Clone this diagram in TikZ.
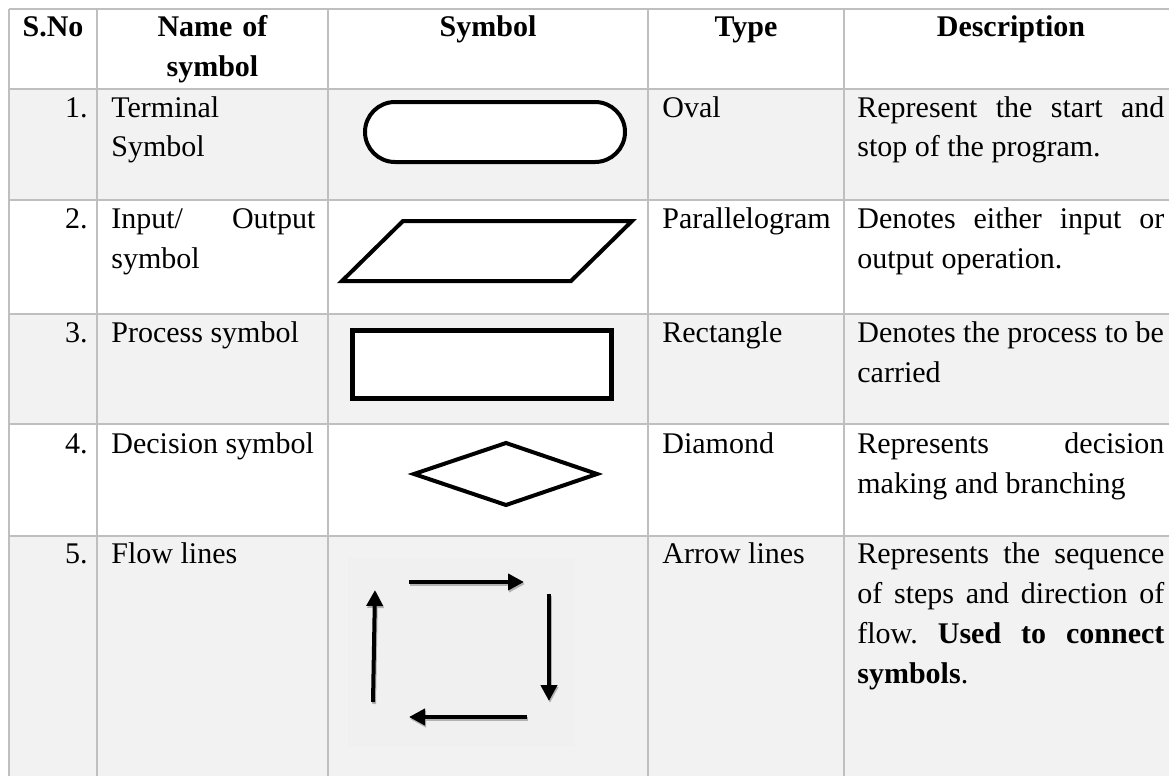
\documentclass[tikz,border=0pt]{standalone}
\usepackage{fontspec}
\setmainfont{Liberation Serif}
\usepackage{tikz}
\usetikzlibrary{arrows.meta}

\definecolor{gridgray}{HTML}{BFBFBF}
\definecolor{rowgray}{HTML}{F2F2F2}
\definecolor{imggray}{HTML}{F0F0F0}
\newcommand{\cellfont}{\fontsize{15pt}{20pt}\selectfont\frenchspacing}

\tikzset{
  txt/.style={anchor=base west, inner sep=0pt},
  num/.style={anchor=base east, inner sep=0pt},
  head/.style={anchor=base, inner sep=0pt, font=\cellfont\bfseries},
  namecol/.style={txt, text width=102pt, align=justify},
  desccol/.style={txt, text width=153.5pt, align=justify},
  rule/.style={draw=gridgray, line width=1pt},
  symb/.style={draw=black, line width=2pt, fill=white},
  flow/.style={line width=2pt, -{Triangle[length=8pt,width=8pt]}},
  flowshade/.style={flow, black!30},
}

\begin{document}
\begin{tikzpicture}[x=0.5pt, y=-0.5pt, every node/.style={font=\cellfont}]
    \clip (0,0) rectangle (1169,776);

    % Row shading
    \fill[rowgray] (9,89) rectangle (1178,200);
    \fill[rowgray] (9,314) rectangle (1178,424);
    \fill[rowgray] (9,536) rectangle (1178,790);

    % Grid
    \draw[rule] (9,9) -- (1178,9);
    \draw[rule] (9,89) -- (1178,89);
    \draw[rule] (9,200) -- (1178,200);
    \draw[rule] (9,314) -- (1178,314);
    \draw[rule] (9,424) -- (1178,424);
    \draw[rule] (9,536) -- (1178,536);
    \draw[rule] (9,9) -- (9,790);
    \draw[rule] (97,9) -- (97,790);
    \draw[rule] (328,9) -- (328,790);
    \draw[rule] (648,9) -- (648,790);
    \draw[rule] (844,9) -- (844,790);
    \draw[rule] (1178,9) -- (1178,790);

    % Header
    \node[head] (hsno) at (53,37) {S.No};
    \node[head, text width=110pt, align=center] (hname) at (212.5,37) {Name of\\symbol};
    \node[head] (hsym) at (488,37) {Symbol};
    \node[head] (htype) at (746,37) {Type};
    \node[head] (hdesc) at (1011,37) {Description};

    % 1. Terminal
    \node[num] (n1) at (88,117) {1.};
    \node[namecol] (name1) at (111,117) {Terminal\\Symbol};
    \draw[symb, rounded corners=15pt] (365,102) rectangle (625,162);
    \node[txt] (type1) at (662,117) {Oval};
    \node[desccol] (desc1) at (857,117) {Represent the start and\linebreak stop of the program.};

    % 2. Input / output
    \node[num] (n2) at (88,228) {2.};
    \node[namecol] (name2) at (111,228) {Input/ Output\linebreak symbol};
    \draw[symb] (403,221) -- (632,221) -- (571,281) -- (342,281) -- cycle;
    \node[txt] (type2) at (662,228) {Parallelogram};
    \node[desccol] (desc2) at (857,228) {Denotes either input or\linebreak output operation.};

    % 3. Process
    \node[num] (n3) at (88,342) {3.};
    \node[txt] (name3) at (111,342) {Process symbol};
    \draw[symb, line width=2.5pt] (352.5,330.5) rectangle (611.5,398.5);
    \node[txt] (type3) at (662,342) {Rectangle};
    \node[desccol, text width=160pt] (desc3) at (857,342) {Denotes the process to be\\carried};

    % 4. Decision
    \node[num] (n4) at (88,453) {4.};
    \node[txt] (name4) at (111,453) {Decision symbol};
    \draw[symb] (414,474) -- (506,443) -- (597,474) -- (506,505) -- cycle;
    \node[txt] (type4) at (662,453) {Diamond};
    \node[desccol] (desc4) at (857,453) {Represents decision\linebreak making and branching};

    % 5. Flow lines
    \node[num] (n5) at (88,563) {5.};
    \node[txt] (name5) at (111,563) {Flow lines};
    \fill[imggray] (348,558) rectangle (575,747);
    \coordinate (ra1) at (409,582);
    \coordinate (ra2) at (524,582);
    \coordinate (da1) at (549,594);
    \coordinate (da2) at (549,701);
    \coordinate (la1) at (527,717);
    \coordinate (la2) at (409,717);
    \coordinate (ua1) at (373,702);
    \coordinate (ua2) at (375,590);
    \foreach \a/\b in {ra1/ra2, da1/da2, la1/la2, ua1/ua2} {
        \draw[flowshade] ([shift={(1,2)}]\a) -- ([shift={(1,2)}]\b);
        \draw[flow] (\a) -- (\b);
    }
    \node[txt] (type5) at (662,563) {Arrow lines};
    \node[desccol] (desc5) at (857,563) {Represents the sequence\linebreak of steps and direction of\linebreak flow. \textbf{Used to connect}\linebreak \textbf{symbols}.};
\end{tikzpicture}
\end{document}
